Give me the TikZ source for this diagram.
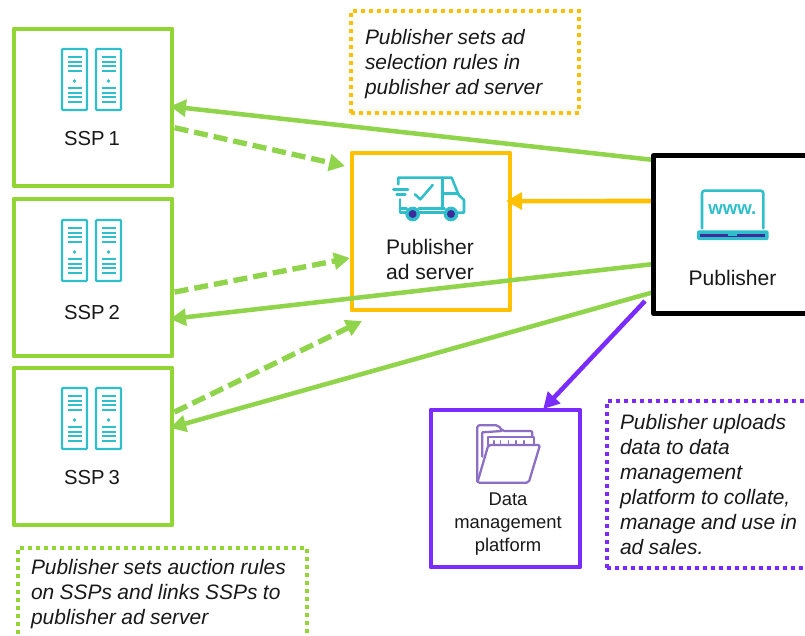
\documentclass[tikz,border=0pt]{standalone}
\usepackage{fontspec}
\setmainfont{Liberation Sans}
\usetikzlibrary{arrows.meta,calc}
\definecolor{boxgreen}{HTML}{92D636}
\definecolor{arrgreen}{HTML}{8FD44A}
\definecolor{ambery}{HTML}{FFC000}
\definecolor{violetb}{HTML}{7A2BFF}
\definecolor{tealic}{HTML}{2EBFCB}
\definecolor{deepv}{HTML}{3F2C9C}
\definecolor{folderv}{HTML}{8C6FC4}
\newcommand\notefnt{\fontsize{15.7}{18.75}\selectfont\itshape}
\newcommand\notespc{\spaceskip=.26em\relax}
\newcommand\sspfnt{\fontsize{15.2}{18.75}\selectfont\spaceskip=.2em\relax}
\tikzset{
  x=.75pt,y=-.75pt,
  every node/.style={outer sep=0pt,text=black!90},
  size/.style 2 args={minimum width={#1*.75pt},minimum height={#2*.75pt},inner sep=0pt},
  frame/.style={draw=#1,line width=3.7pt,rectangle,line join=round,fill=white},
  note/.style={draw=#1,line width=2.7pt,dash pattern=on 3pt off 3pt,rectangle,fill=white},
  notetext/.style={anchor=west,inner sep=0pt,align=left,font=\notefnt,execute at begin node=\notespc},
  lab/.style={align=center,font=\fontsize{15.8}{18.75}\selectfont},
  ssplab/.style={font=\sspfnt},
  solidarr/.style={draw=#1,line width=3.4pt,-{Triangle[length=12pt,width=12.5pt]}},
  dasharr/.style={draw=arrgreen,line width=4pt,dash pattern=on 10.5pt off 4.5pt,-{Triangle[length=12pt,width=12.5pt]}},
  ic/.style={draw=tealic,line width=1.9pt,line join=round,line cap=round},
  fold/.style={draw=folderv,line width=1.7pt,line join=round,line cap=round},
  racks/.pic={
    \draw[draw=tealic,line width=1.7pt,rounded corners=.8pt] (0,0) rectangle (25,61);
    \draw[draw=tealic,line width=1.7pt,rounded corners=.8pt] (34,0) rectangle (59,61);
    \foreach \xo in {0,34}{
      \foreach \yo in {8.3,12.7,17,21.7,39.3,44.3,48.3,52.7}
        \draw[draw=tealic,line width=1.6pt] (\xo+5.5,\yo) -- (\xo+19.5,\yo);
      \fill[tealic] (\xo+12.5,32) circle (1.8);
    }
  }
}
\begin{document}
\begin{tikzpicture}
\clip (0,0) rectangle (805,635);
% boxes
\node[frame=boxgreen,size={158}{157}] (ssp1) at (93,107.5) {};
\node[frame=boxgreen,size={158}{157}] (ssp2) at (93,277.5) {};
\node[frame=boxgreen,size={158}{157}] (ssp3) at (93,446.5) {};
\node[frame=ambery,size={158}{157}] (srv) at (431,231.5) {};
\node[frame=violetb,size={149}{157}] (dmp) at (505.5,488.5) {};
% notes
\node[note=ambery,size={228}{102}] (n1) at (465,62) {};
\node[notetext,text width=165pt] (n1t) at (365,64) {Publisher sets ad\\selection rules in\\publisher ad server};
\node[note=boxgreen,size={289}{92}] (n2) at (162.5,594) {};
\node[notetext,text width=205pt] (n2t) at (31,594) {Publisher sets auction rules\\on SSPs and links SSPs to\\publisher ad server};
\node[note=violetb,size={223}{167}] (n3) at (718.5,484.5) {};
\node[notetext,text width=145pt] (n3t) at (620,485) {Publisher uploads\\data to data\\management\\platform to collate,\\manage and use in\\ad sales.};
% publisher box is placed after its connectors
\coordinate (pubnw) at (654,156);
% connectors
\draw[dasharr,shorten <=2pt] ($(ssp1.north east)!.625!(ssp1.south east)$) -- ($(srv.north west)!.083!(srv.south west)+(-7,0)$);
\draw[dasharr,shorten <=2pt] ($(ssp2.north east)!.596!(ssp2.south east)$) -- ($(srv.north west)!.669!(srv.south west)+(-2,0)$);
\draw[dasharr,shorten <=2pt] ($(ssp3.north east)!.288!(ssp3.south east)$) -- ($(srv.south west)+(10,11)$);
\draw[solidarr=arrgreen,shorten >=-1.5pt] (pubnw |- 0,160) -- ($(ssp1.north east)!.494!(ssp1.south east)$);
\draw[solidarr=arrgreen,shorten >=-1.5pt] (pubnw |- 0,264) -- ($(ssp2.north east)!.763!(ssp2.south east)$);
\draw[solidarr=arrgreen,shorten >=-1.5pt] (pubnw |- 0,292) -- ($(ssp3.north east)!.378!(ssp3.south east)$);
\draw[solidarr=ambery,shorten >=-3pt] (pubnw |- 0,201) -- ($(srv.north east)!.306!(srv.south east)$);
\coordinate (upl) at (645,301);
\draw[solidarr=violetb] (upl) -- ($(dmp.north west)!.76!(dmp.north east)+(-1,-1)$) ;
% publisher
\node[frame=black,size={160}{158}] (pub) at (733.5,234.5) {};
% labels
\node[ssplab] (l1) at (92,139) {SSP 1};
\node[ssplab] (l2) at (92,313) {SSP 2};
\node[ssplab] (l3) at (92,478) {SSP 3};
\node[lab] (l4) at (430,259.5) {Publisher\\ad server};
\node[lab] (l5) at (732.5,277.5) {Publisher};
\node[align=center,font=\fontsize{13.8}{17.25}\selectfont] (l6) at (508,524) {Data\\management\\platform};
% server icons
\pic at (62,49) {racks};
\pic at (62,220) {racks};
\pic at (62,388) {racks};
% truck icon
\begin{scope}[shift={(340,140)},x=.25pt,y=-.25pt]
  \draw[ic] (175,133) -- (175,113) -- (335,113) -- (356,165) -- (372,180) -- (372,218) -- (352,218);
  \draw[ic] (180,178) -- (180,218) -- (198,218);
  \draw[ic] (238,218) -- (312,218);
  \draw[ic] (180,205) -- (200,205) (236,205) -- (314,205);
  \draw[ic] (308,205) -- (308,113);
  \draw[ic] (308,160) -- (355,160);
  \draw[ic] (160,149) -- (204,149);
  \draw[ic] (170,163) -- (196,163);
  \draw[ic] (225,163) -- (241,178) -- (278,135);
  \fill[tealic] (218,222) circle (22) (333,222) circle (22);
  \fill[deepv] (218,222) circle (12) (333,222) circle (12);
\end{scope}
% laptop icon
\begin{scope}[shift={(640,140)},x=.25pt,y=-.25pt]
  \draw[ic,rounded corners=2pt] (186,265) -- (186,152) -- (370,152) -- (370,265);
  \fill[tealic,rounded corners=1.5pt] (171,271) rectangle (386,300);
  \fill[deepv] (181,281) rectangle (376,292);
  \fill[tealic] (264,278) rectangle (292,287);
  \node[font=\fontsize{14}{15}\selectfont\bfseries,text=tealic,inner sep=0pt] (www) at (277,208) {www.};
\end{scope}
% folder icon
\begin{scope}[shift={(420,400)},x=.25pt,y=-.25pt]
  \draw[fold,rounded corners=1.5pt] (172,245) -- (172,76) -- (235,76) -- (247,93) -- (337,93) -- (337,108);
  \draw[fold] (187,170) -- (187,97) -- (245,93);
  \draw[fold] (203,135) -- (203,111) -- (343,111) -- (343,135);
  \foreach \q in {222,242,265,288,312} \draw[fold,line width=1pt] (\q,122) -- (\q,132);
  \draw[fold,rounded corners=1.5pt] (205,135) -- (360,135) -- (326,248) -- (172,248) -- cycle;
\end{scope}
\end{tikzpicture}
\end{document}
